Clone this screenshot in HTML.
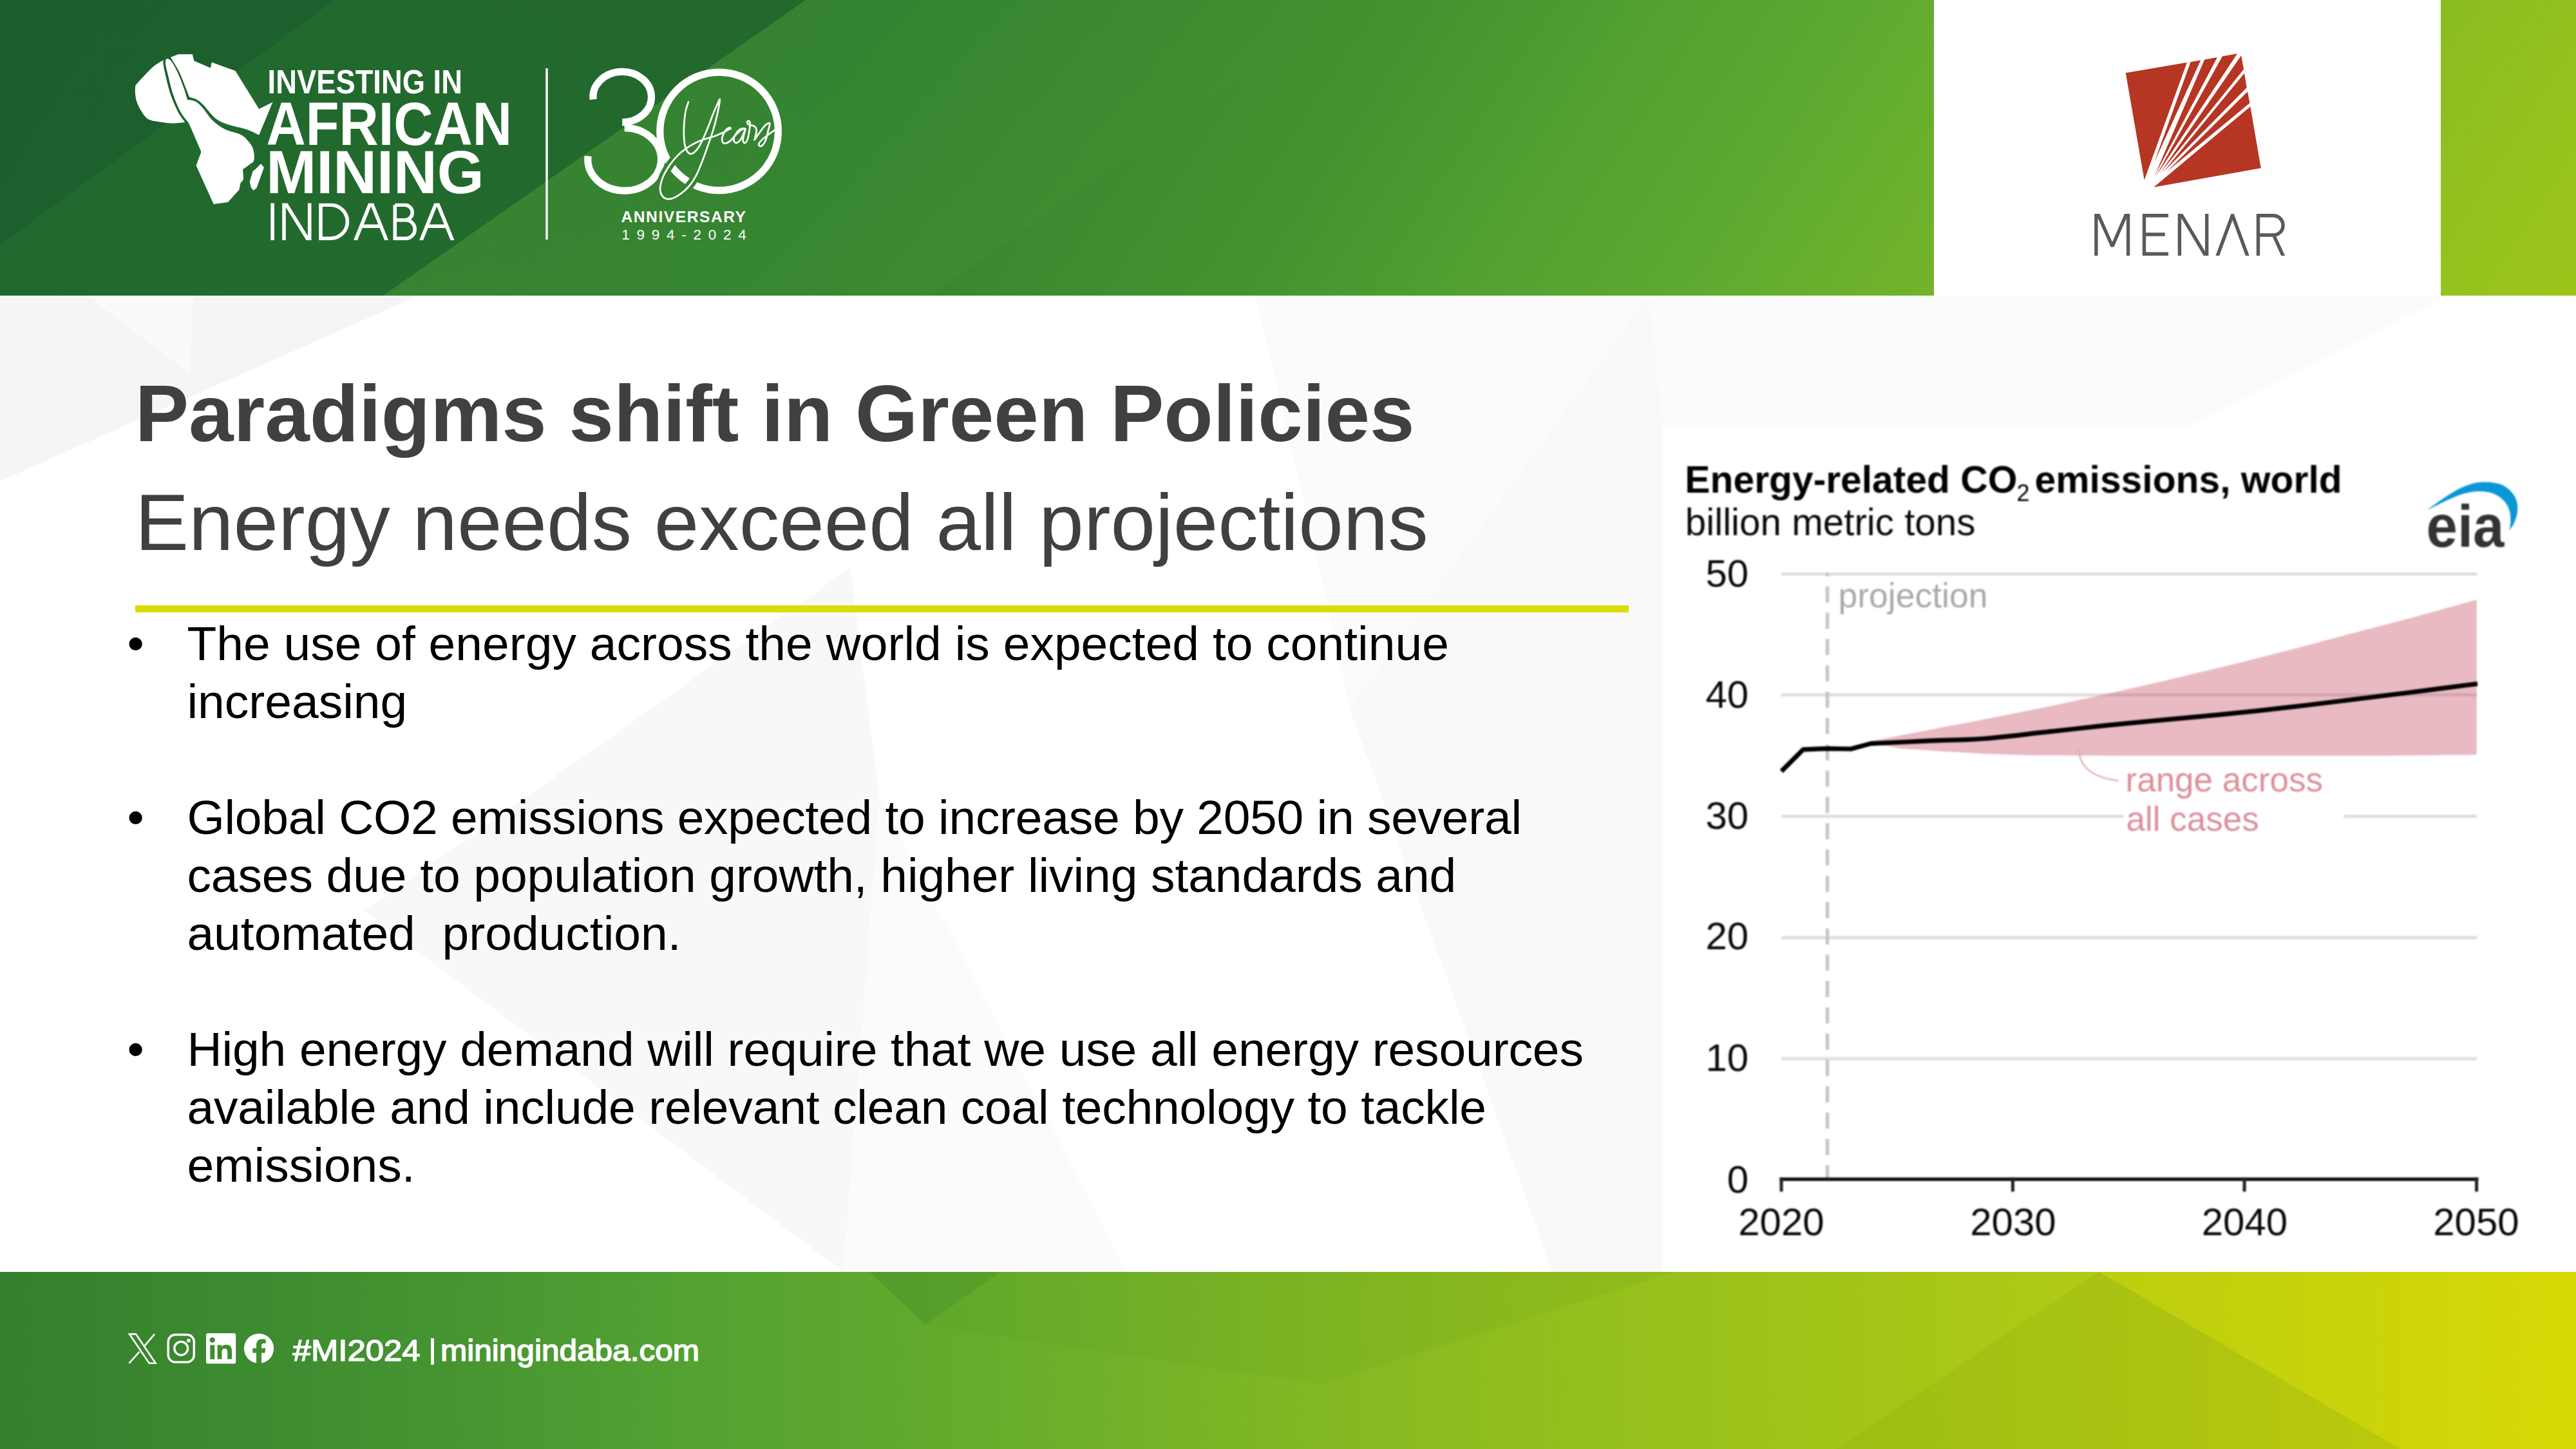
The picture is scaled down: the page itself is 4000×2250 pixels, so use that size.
<!DOCTYPE html>
<html><head><meta charset="utf-8">
<title>Paradigms shift in Green Policies</title>
<style>
html,body{margin:0;padding:0;}
body{width:4000px;height:2250px;overflow:hidden;position:relative;background:#ffffff;font-family:"Liberation Sans",sans-serif;}
.abs{position:absolute;}
svg{position:absolute;left:0;top:0;overflow:visible;}
#hdr{left:0;top:0;width:4000px;height:459px;background:linear-gradient(123deg,#216a2f 0%,#246e30 3.5%,#2a7731 17.4%,#307f31 32.3%,#44932f 51.9%,#52a131 60.2%,#5ca931 66.8%,#6bb02d 73.3%,#80b925 82.6%,#8fbf20 91.9%,#98c31c 96.5%,#9cc51b 100%);}
#hdrbox{left:3003px;top:0;width:787px;height:459px;background:#fff;}
#ftr{left:0;top:1975px;width:4000px;height:275px;background:linear-gradient(90deg,#34802e 0%,#3d8b30 10%,#499832 20%,#53a232 27%,#68ad2c 39%,#80b724 50%,#8fbd1f 58%,#a0c419 70%,#aac816 77%,#b7cc12 85%,#c8d20b 93%,#d8d906 100%);}
#title{left:209.7px;top:579px;font-size:125px;font-weight:bold;color:#404040;white-space:nowrap;line-height:125px;}
#sub{left:209.7px;top:747.7px;font-size:125px;color:#404040;white-space:nowrap;line-height:125px;}
#rule{left:210px;top:940.4px;width:2319.4px;height:10.2px;background:#dcdc05;}
#bul{left:290.4px;top:954px;font-size:75px;color:#000;line-height:90px;white-space:nowrap;}
.dot{left:197.5px;font-size:75px;line-height:90px;color:#000;}
#chartbox{left:2582px;top:661px;width:1418px;height:1314px;background:#fff;}
.ct{font-size:58.33px;line-height:58.33px;white-space:nowrap;color:#000;}
</style></head><body>
<!-- background facets -->
<svg width="4000" height="2250" viewBox="0 0 4000 2250">
<polygon points="0,459 650,459 0,747" fill="#f5f5f5"/>
<polygon points="135,459 300,459 295,580" fill="#fafafa"/>
<polygon points="1320,882 566,1415 1310,1975 1366,1240" fill="#f8f8f8"/>
<polygon points="1366,1240 1310,1975 1750,1975" fill="#fbfbfb"/>
<polygon points="1950,459 3800,459 3400,661 2582,661 2582,1948 4000,1948 4000,1975 2411,1975 2096,1100 2066,960" fill="#fbfbfb"/>
<polygon points="2560,459 2096,1100 2411,1975 2582,1975 2582,661" fill="#f9f9f9"/>
</svg>
<div id="hdr" class="abs"></div>
<svg width="4000" height="459" viewBox="0 0 4000 459">
<defs><linearGradient id="hd" x1="0" x2="1" y1="0" y2="0"><stop offset="0" stop-color="#1d622c" stop-opacity="0.55"/><stop offset="1" stop-color="#22672d" stop-opacity="0.95"/></linearGradient></defs>
<polygon points="0,0 1251,0 595,459 0,459" fill="url(#hd)"/>
<polygon points="0,0 520,0 0,380" fill="#124a2e" opacity="0.28"/>
<defs><linearGradient id="hl" x1="0" x2="1" y1="0" y2="0"><stop offset="0" stop-color="#63b033" stop-opacity="0.2"/><stop offset="1" stop-color="#63b033" stop-opacity="0"/></linearGradient></defs>
<polygon points="1251,0 2100,0 1444,459 595,459" fill="url(#hl)"/>
</svg>
<div id="hdrbox" class="abs"></div>
<div id="ftr" class="abs"></div>
<svg width="4000" height="2250" viewBox="0 0 4000 2250">
<polygon points="1350,1975 1553,1975 1437,2057" fill="#3c8424" opacity="0.32"/>
<polygon points="1553,1975 1437,2057 2050,2150 2600,1975" fill="#4a8f22" opacity="0.10"/>
<polygon points="3260,1975 3727,2250 2850,2250" fill="#8fa80e" opacity="0.22"/>
<polygon points="3260,1975 4000,1975 4000,2250 3727,2250" fill="#d8da06" opacity="0.30"/>
</svg>

<!-- Mining Indaba logo -->
<svg id="logo1" width="4000" height="459" viewBox="0 0 4000 459">
<g fill="#fff">
<path d="M254.4,92.9 C251.7,94.6 244.6,97.7 238.0,103.5 C231.4,109.3 219.5,122.2 214.8,127.6 C210.1,133.1 210.4,131.5 210.0,136.3 C209.5,141.2 210.0,150.0 211.9,156.6 C213.8,163.2 218.3,171.1 221.5,175.9 C224.8,180.8 227.2,183.4 231.2,185.6 C235.2,187.8 239.7,188.1 245.7,189.1 C251.7,190.0 260.0,191.3 267.0,191.4 C273.9,191.5 283.9,190.1 287.2,189.9 C285.5,187.2 280.3,181.2 276.6,174.0 C272.9,166.9 268.2,156.3 265.0,147.0 C261.8,137.6 259.2,126.0 257.3,118.0 C255.4,109.9 253.9,102.8 253.4,98.6 C252.9,94.5 254.2,93.8 254.4,92.9Z"/>
<path d="M258.3,90.9 C258.0,92.2 256.4,94.1 256.9,98.6 C257.4,103.2 259.2,109.9 261.2,118.0 C263.2,126.0 265.7,137.6 268.9,147.0 C272.1,156.3 276.6,166.9 280.5,174.0 C284.3,181.1 290.1,186.9 292.1,189.5 L295.9,197.2 L312.4,235.8 L304.6,257.1 L331.7,317.0 L353.9,314.1 L371.3,294.8 L373.2,285.1 L378.1,278.4 L377.1,262.9 L393.5,251.3 C393.8,250.0 395.0,247.1 394.9,243.6 C394.7,240.0 394.2,234.2 392.6,230.0 C390.9,225.9 388.1,222.0 384.8,218.5 C381.6,214.9 379.0,211.7 373.2,208.8 C367.4,205.9 357.1,204.6 350.0,201.1 C343.0,197.5 336.5,193.0 330.7,187.5 C324.9,182.1 319.8,173.2 315.3,168.2 C310.8,163.2 307.7,159.8 303.7,157.6 C299.6,155.3 293.2,155.2 291.1,154.7 C290.0,151.1 287.1,140.8 284.3,133.4 C281.6,126.0 277.9,116.8 274.7,110.2 C271.5,103.6 267.8,97.0 265.0,93.8 C262.3,90.6 259.4,91.4 258.3,90.9Z"/>
<path d="M265.0,89.0 L276.6,84.2 L298.8,84.2 L301.4,94.4 L326.9,105.4 L328.8,96.7 L365.5,109.9 L402.2,169.2 L423.5,158.6 L402.2,209.8 C399.0,208.3 391.0,203.8 382.9,201.1 C374.8,198.3 362.0,196.2 353.9,193.3 C345.9,190.4 341.0,188.8 334.6,183.7 C328.1,178.5 320.1,167.2 315.3,162.4 C310.4,157.6 309.1,156.6 305.6,154.7 C302.1,152.8 295.9,151.5 294.0,150.8 C292.9,147.9 289.8,139.9 287.2,133.4 C284.7,127.0 281.8,118.8 278.6,112.2 C275.3,105.6 270.2,97.7 267.9,93.8 C265.7,90.0 265.5,89.8 265.0,89.0Z"/>
<path d="M405.1,254.2 L410.0,260.0 L398.4,291.9 L393.5,295.7 L389.7,290.9 L387.7,282.2 L392.6,265.8 L396.4,262.9Z"/>
</g>
<g fill="#fff" font-family="Liberation Sans, sans-serif" font-weight="bold" font-size="100">
<text transform="translate(415.6,145) scale(0.4535,0.519)">INVESTING IN</text>
<text transform="translate(413.4,225.1) scale(0.848,0.9433)">AFRICAN</text>
<text transform="translate(413.2,299.8) scale(0.9375,0.9477)">MINING</text>
</g>
<!-- INDABA thin -->
<defs><clipPath id="iclip"><rect x="410" y="315.4" width="310" height="57.6"/></clipPath></defs>
<g fill="none" stroke="#fff" stroke-width="5.6" stroke-linejoin="bevel" clip-path="url(#iclip)">
<path d="M423.1,310 V380"/>
<path d="M441,380 V312 L480.7,376 V310"/>
<path d="M498,318.2 V370.2 H513.4 A26,26 0 0 0 513.4,318.2 Z" stroke-linejoin="miter"/>
<path d="M549.2,380 L576.1,313 L603,380 M561,351.3 H591"/>
<path d="M613.3,318.2 V370.2 H630 A14.2,14.2 0 0 0 630,341.8 H613.3 M628.5,341.8 A11.8,11.8 0 0 0 628.5,318.2 H613.3" stroke-linejoin="miter"/>
<path d="M651.2,380 L678.3,313 L705.4,380 M663,351.3 H693.5"/>
</g>
<!-- divider -->
<rect x="847.3" y="106" width="3.4" height="266" fill="#fff"/>
</svg>

<!-- 30 years -->
<svg id="logo2" width="4000" height="459" viewBox="0 0 4000 459">
<g fill="none" stroke="#fff" stroke-width="11.2">
<circle cx="1116.6" cy="203.9" r="91.8"/>
<path d="M921.1,154.3 A45.3,39.3 0 1 1 966.2,189.9"/>
<path d="M969.7,198.7 A56.9,48.7 0 1 1 913.1,242.4"/>
</g>
<path fill="none" stroke="#358331" stroke-width="13" stroke-linecap="butt" d="M1107.0,203.4 C1105.8,206.9 1102.4,217.0 1099.8,224.4 C1097.2,231.8 1094.5,239.9 1091.3,248.0 C1088.1,256.1 1084.7,265.7 1080.8,272.9 C1076.9,280.2 1072.9,286.1 1067.7,291.5 C1062.4,297.0 1054.6,302.8 1049.3,305.7 C1044.1,308.6 1039.8,309.4 1036.2,309.0 C1032.6,308.6 1029.6,306.2 1027.7,303.3 C1025.8,300.5 1024.8,296.8 1025.1,291.9 C1025.4,287.1 1027.2,280.2 1029.7,274.2 C1032.2,268.3 1036.2,261.8 1040.2,256.1 C1044.1,250.5 1048.5,245.1 1053.3,240.4 C1058.1,235.7 1064.0,231.4 1069.0,228.1 C1074.0,224.7 1081.0,221.5 1083.4,220.2"/>
<path fill="none" stroke="#fff" stroke-width="2.7" stroke-linecap="round" stroke-linejoin="round" d="M1069.0,158.2 C1068.3,160.5 1065.9,166.6 1064.8,172.0 C1063.7,177.3 1062.9,184.2 1062.4,190.3 C1062.0,196.4 1061.7,202.8 1061.9,208.7 C1062.1,214.6 1062.5,221.2 1063.5,225.7 C1064.5,230.3 1066.1,233.8 1067.7,235.9 C1069.3,238.1 1071.0,239.2 1073.2,238.8 C1075.4,238.5 1078.2,236.7 1080.8,233.8 C1083.4,231.0 1085.6,227.7 1088.7,221.8 C1091.7,215.8 1095.9,206.0 1099.2,198.2 C1102.4,190.3 1105.7,181.0 1108.3,174.6 C1111.0,168.1 1113.3,162.9 1114.9,159.5 C1116.5,156.1 1117.5,153.5 1117.8,154.3 C1118.0,155.0 1117.3,159.6 1116.5,164.1 C1115.7,168.6 1114.5,174.6 1112.9,181.1 C1111.4,187.7 1109.2,196.2 1107.0,203.4 C1104.8,210.6 1102.4,217.0 1099.8,224.4 C1097.2,231.8 1094.5,239.9 1091.3,248.0 C1088.1,256.1 1084.7,265.7 1080.8,272.9 C1076.9,280.2 1072.9,286.1 1067.7,291.5 C1062.4,297.0 1054.6,302.8 1049.3,305.7 C1044.1,308.6 1039.8,309.4 1036.2,309.0 C1032.6,308.6 1029.6,306.2 1027.7,303.3 C1025.8,300.5 1024.8,296.8 1025.1,291.9 C1025.4,287.1 1027.2,280.2 1029.7,274.2 C1032.2,268.3 1036.2,261.8 1040.2,256.1 C1044.1,250.5 1048.5,245.1 1053.3,240.4 C1058.1,235.7 1064.0,231.4 1069.0,228.1 C1074.0,224.7 1078.4,222.5 1083.4,220.2 C1088.4,218.0 1094.8,216.0 1099.2,214.6 C1103.5,213.1 1105.9,212.7 1109.5,211.4 C1113.1,210.1 1117.2,208.3 1120.6,206.7 C1124.1,205.1 1127.8,203.1 1130.2,201.9 C1132.5,200.7 1134.3,200.1 1134.6,199.5 C1134.9,198.9 1133.3,197.5 1131.7,198.3 C1130.2,199.0 1127.1,201.7 1125.4,204.3 C1123.7,206.9 1122.0,211.0 1121.4,213.8 C1120.9,216.6 1121.3,219.5 1122.2,221.0 C1123.1,222.4 1125.0,222.9 1127.0,222.5 C1129.0,222.1 1131.6,220.7 1134.1,218.6 C1136.6,216.5 1139.3,212.6 1142.1,209.8 C1144.8,207.1 1148.5,203.6 1150.8,201.9 C1153.1,200.2 1156.3,199.7 1155.9,199.5 C1155.5,199.4 1150.9,199.3 1148.4,201.1 C1145.9,203.0 1142.4,207.7 1141.0,210.6 C1139.5,213.6 1139.2,217.0 1139.7,218.9 C1140.2,220.7 1142.3,222.3 1144.1,221.7 C1146.0,221.2 1148.8,218.3 1150.8,215.4 C1152.8,212.5 1154.8,206.8 1155.9,204.3 C1157.0,201.8 1157.6,199.3 1157.5,200.3 C1157.3,201.4 1155.4,207.5 1154.8,210.6 C1154.1,213.7 1153.3,217.0 1153.7,218.9 C1154.0,220.8 1155.6,222.6 1156.8,222.1 C1158.1,221.5 1160.0,218.6 1161.1,215.4 C1162.2,212.2 1162.9,206.5 1163.5,202.7 C1164.1,198.9 1164.9,194.9 1164.8,192.4 C1164.6,189.9 1163.5,188.0 1162.7,187.6 C1161.9,187.2 1159.9,188.9 1160.0,190.0 C1160.1,191.1 1161.4,193.0 1163.2,194.0 C1164.9,194.9 1168.7,194.4 1170.6,195.6 C1172.5,196.7 1174.2,198.6 1174.6,201.1 C1175.1,203.6 1173.8,208.0 1173.3,210.6 C1172.9,213.3 1170.7,217.8 1171.7,217.0 C1172.8,216.2 1176.5,209.7 1179.4,205.9 C1182.2,202.0 1186.2,196.3 1188.9,194.0 C1191.5,191.6 1194.5,190.4 1195.2,191.6 C1196.0,192.8 1194.2,196.9 1193.2,201.1 C1192.2,205.3 1190.9,212.8 1189.2,217.0 C1187.5,221.2 1184.6,225.1 1182.9,226.5 C1181.1,228.0 1179.0,226.8 1178.6,225.7 C1178.1,224.7 1178.4,222.4 1180.2,220.2 C1181.9,217.9 1184.9,215.4 1188.9,212.2 C1192.9,209.0 1201.5,203.0 1204.0,201.1"/>
<g fill="#fff" font-family="Liberation Sans, sans-serif">
<text x="964.5" y="345.1" font-size="24.6" font-weight="bold" textLength="193.5" lengthAdjust="spacing">ANNIVERSARY</text>
<text x="965.2" y="372.1" font-size="22.5" textLength="193.5" lengthAdjust="spacing">1994-2024</text>
</g>
</svg>

<!-- MENAR -->
<svg id="menar" width="4000" height="459" viewBox="0 0 4000 459">
<g fill="#b63523">
<path d="M3300.7,113.1 L3395.9,97.1 L3329.7,279.5Z"/>
<path d="M3401.6,96.2 L3417.2,93.6 L3345.2,251.9Z"/>
<path d="M3423.2,92.4 L3443.0,89.0 L3345.6,273.1Z"/>
<path d="M3450.8,87.6 L3474.1,83.3 L3347.6,273.6Z"/>
<path d="M3480.1,86.2 L3484.1,107.4 L3353.3,270.1Z"/>
<path d="M3485.0,113.8 L3488.8,135.9 L3358.5,267.9Z"/>
<path d="M3490.0,142.3 L3493.4,160.1 L3364.5,266.7Z"/>
<path d="M3494.3,165.6 L3510.8,261.0 L3344.2,290.7Z"/>
</g>
<defs><clipPath id="mclip"><rect x="3240" y="332.1" width="330" height="64.9"/></clipPath></defs>
<g stroke="#5a5a5a" stroke-width="5.4" fill="none" stroke-linejoin="miter" stroke-miterlimit="10" clip-path="url(#mclip)">
<path d="M3254.9,400 V326 L3280,382.5 L3304.6,326 V400" stroke-linejoin="bevel"/>
<path d="M3367,334.8 H3329.5 V394.3 H3367 M3329.5,364 H3361.8"/>
<path d="M3384.4,400 V329 L3426.7,400 V329" stroke-linejoin="bevel"/>
<path d="M3442.2,400 L3466.6,334 L3490.9,400"/>
<path d="M3506.5,400 V334.8 H3530 A15.1,15.1 0 0 1 3530,365 H3506.5 M3530.5,365 L3546.5,400"/>
</g>
</svg>

<!-- Title -->
<div id="title" class="abs">Paradigms shift in Green Policies</div>
<div id="sub" class="abs">Energy needs exceed all projections</div>
<div id="rule" class="abs"></div>
<div class="abs dot" style="top:954px">&bull;</div>
<div class="abs dot" style="top:1224px">&bull;</div>
<div class="abs dot" style="top:1584px">&bull;</div>
<div id="bul" class="abs">The use of energy across the world is expected to continue<br>increasing<br><br><span style="letter-spacing:-0.27px">Global CO2 emissions expected to increase by 2050 in several</span><br><span style="letter-spacing:-0.093px">cases due to population growth, higher living standards and</span><br>automated&nbsp; production.<br><br><span style="letter-spacing:-0.12px">High energy demand will require that we use all energy resources</span><br><span style="letter-spacing:-0.21px">available and include relevant clean coal technology to tackle</span><br>emissions.</div>

<!-- Chart -->
<div id="chartbox" class="abs"></div>
<svg id="chart" width="4000" height="2250" viewBox="0 0 4000 2250" style="filter:blur(0.8px)">
<g stroke="#dedede" stroke-width="4.8">
<line x1="2766" x2="3846" y1="891.4" y2="891.4"/>
<line x1="2766" x2="3846" y1="1079" y2="1079"/>
<line x1="2766" x2="3846" y1="1267.6" y2="1267.6"/>
<line x1="2766" x2="3846" y1="1456" y2="1456"/>
<line x1="2766" x2="3846" y1="1644" y2="1644"/>
</g>
<line x1="2837.5" x2="2837.5" y1="889" y2="1830" stroke="#c6c6c6" stroke-width="5.5" stroke-dasharray="25 15.85" stroke-dashoffset="19.25"/>
<path fill="rgba(200,82,100,0.4)" d="M2898,1152.6 L2951,1142 L3017,1129.2 L3080,1117.3 L3173,1098.8 L3266.3,1078.8 L3359.5,1057.6 L3452.7,1035.3 L3546,1011.8 L3639,987.1 L3742,960 L3845.8,931.2 L3845.8,1172 L3700,1173.5 L3300,1173.5 L3150,1172.8 L3080,1170.4 L3017,1166.7 L2951,1162.3 Z"/>
<rect x="3298" y="1185" width="341" height="115" fill="#fff"/>
<path fill="none" stroke="#000" stroke-width="7.2" stroke-linejoin="round" d="M2766.2,1197.6 L2800,1163.8 L2837.5,1162.3 L2873.9,1163 L2904.8,1154.6 C2920.7,1153.9 2970.8,1151.5 3000.0,1150.2 C3029.2,1148.9 3051.2,1149.2 3080.0,1147.0 C3108.8,1144.8 3142.0,1140.5 3173.0,1137.2 C3204.0,1133.9 3235.0,1130.1 3266.0,1126.9 C3297.0,1123.7 3327.9,1120.8 3359.0,1117.8 C3390.1,1114.8 3421.5,1112.3 3452.7,1109.2 C3483.9,1106.1 3514.9,1102.7 3546.0,1099.2 C3577.1,1095.7 3606.3,1092.0 3639.0,1088.0 C3671.7,1084.0 3707.3,1079.6 3742.0,1075.2 C3776.7,1070.8 3829.5,1064.0 3847.0,1061.7"/>
<path fill="none" stroke="#e6a9b3" stroke-width="2.4" d="M3227.5,1162.6 C3229,1185 3240,1206 3289.6,1212.3"/>
<rect x="2763.4" y="1828.4" width="1085" height="5.4" fill="#111"/>
<g fill="#222">
<rect x="2763.6" y="1828.4" width="5" height="22"/>
<rect x="3122.9" y="1828.4" width="5" height="22"/>
<rect x="3482.6" y="1828.4" width="5" height="22"/>
<rect x="3843.1" y="1828.4" width="5" height="22"/>
</g>
<g font-family="Liberation Sans, sans-serif" font-size="58.33" fill="#0a0a0a">
<text x="2616.3" y="765.2" font-weight="bold" font-size="58.8" fill="#000">Energy-related CO<tspan font-size="36" font-weight="normal" dy="13" dx="-1">2</tspan><tspan dy="-13" dx="8">emissions, world</tspan></text>
<text x="2616.8" y="831">billion metric tons</text>
<text x="2715.2" y="910.6" text-anchor="end" font-size="60">50</text>
<text x="2715.2" y="1099.2" text-anchor="end" font-size="60">40</text>
<text x="2715.2" y="1286.5" text-anchor="end" font-size="60">30</text>
<text x="2715.2" y="1474.3" text-anchor="end" font-size="60">20</text>
<text x="2715.2" y="1662.8" text-anchor="end" font-size="60">10</text>
<text x="2715.2" y="1851.6" text-anchor="end" font-size="60">0</text>
<text x="2766" y="1917.9" text-anchor="middle" font-size="60">2020</text>
<text x="3126" y="1917.9" text-anchor="middle" font-size="60">2030</text>
<text x="3485.4" y="1917.9" text-anchor="middle" font-size="60">2040</text>
<text x="3845" y="1917.9" text-anchor="middle" font-size="60">2050</text>
<text x="2854.5" y="943" fill="#a9a9a9" font-size="53.5">projection</text>
<text x="3300.5" y="1229.2" fill="#dc8e9a" font-size="53">range across</text>
<text x="3301.5" y="1290" fill="#dc8e9a" font-size="53">all cases</text>
</g>
<!-- eia logo -->
<path fill="#0a97d6" d="M3770.2,790.9 C3790,776 3805,766 3819.4,758.6 C3835,751 3848,748.2 3858,748.5 C3869,748.5 3878,750 3885.6,753.1 C3895,758 3901,764 3905.5,771.9 C3909,779 3909.6,786 3909.3,791.8 C3908,806 3903,816 3896.6,823.2 C3899,812 3898.6,804 3897.7,797.3 C3896,788 3892,781 3885.6,775.2 C3879,769 3872,765.5 3863.5,764.2 C3854,762.5 3845,763 3835.9,764.2 C3826,766 3817,769 3808.3,773 C3795,779 3783,785 3770.2,791.6 Z"/>
<text x="3767.5" y="849.2" font-family="Liberation Sans, sans-serif" font-weight="bold" font-size="93" fill="#333" textLength="121" lengthAdjust="spacingAndGlyphs">eia</text>
</svg>

<!-- Footer -->
<svg id="foot" width="4000" height="2250" viewBox="0 0 4000 2250">
<!-- X -->
<g fill="none" stroke="#fff" stroke-width="2.6">
<path d="M201,2071.6 H211 L241.6,2116.8 H231.6 Z"/>
<path d="M240,2071.6 L223.3,2091.4 M216.6,2098.8 L200.5,2116.8"/>
</g>
<!-- Instagram -->
<g fill="none" stroke="#fff">
<rect x="261.2" y="2072.5" width="40.1" height="42.6" rx="11" stroke-width="3.4"/>
<circle cx="281.2" cy="2093.8" r="10.4" stroke-width="3.4"/>
<circle cx="293" cy="2081.6" r="2.9" fill="#fff" stroke="none"/>
</g>
<!-- LinkedIn -->
<rect x="320" y="2070.2" width="46.2" height="47.4" rx="2.5" fill="#fff"/>
<g fill="#3f8d30">
<rect x="326.3" y="2088.6" width="7" height="22"/>
<circle cx="329.8" cy="2080.8" r="4.1"/>
<path d="M337.6,2088.6 H344.2 V2091.6 C345.4,2089.4 347.9,2088 351.4,2088 C357.4,2088 360,2091.6 360,2098.2 V2110.6 H353.2 V2099.2 C353.2,2095.7 352,2093.9 349.2,2093.9 C346.2,2093.9 344.4,2095.9 344.4,2099.5 V2110.6 H337.6 Z"/>
</g>
<!-- Facebook -->
<circle cx="402" cy="2093.8" r="23.1" fill="#fff"/>
<path fill="#408e30" d="M398,2117.4 V2100.8 H392.3 V2093.6 H398 V2088.6 C398,2082.4 401.6,2079.2 407.2,2079.2 C409.2,2079.2 411.2,2079.5 412.7,2079.8 V2085.9 H409.7 C407,2085.9 406,2087.3 406,2089.4 V2093.6 H412.4 L411.4,2100.8 H406 V2117.4 Z"/>
<g font-family="Liberation Sans, sans-serif" font-size="46.3" fill="#fff" stroke="#fff" stroke-width="1.5" stroke-linejoin="round">
<text x="454.6" y="2112.6" textLength="198" lengthAdjust="spacingAndGlyphs">#MI2024</text>
<text x="684" y="2112.6" textLength="402" lengthAdjust="spacingAndGlyphs">miningindaba.com</text>
</g>
<rect x="669" y="2078" width="5" height="41" fill="#fff"/>
</svg>
</body></html>
